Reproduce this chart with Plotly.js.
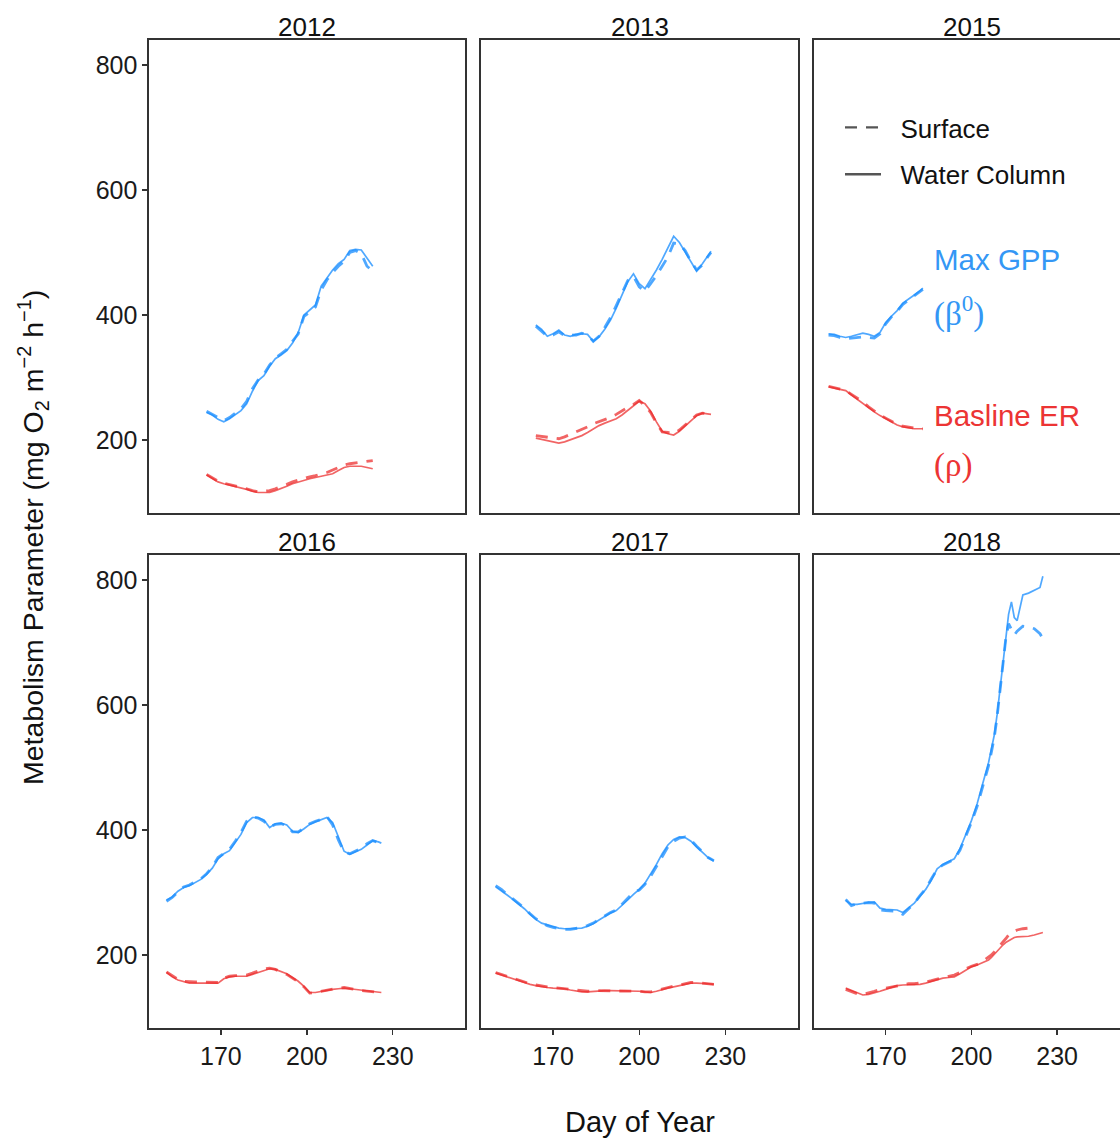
<!DOCTYPE html>
<html>
<head>
<meta charset="utf-8">
<script src="https://cdn.plot.ly/plotly-3.0.1.min.js"></script>
<style>
html,body{margin:0;padding:0;overflow:hidden;background:#fff;}
#chart{width:1120px;height:1141px;}
</style>
</head>
<body>
<div id="chart"></div>
<script>
// ---------------- DATA ----------------
const years = ["2012", "2013", "2015", "2016", "2017", "2018"];
const xTicks = [170, 200, 230];
const yTicks = [200, 400, 600, 800];

const doy2012 = [165,167,169,171,173,175,177,179,181,183,185,187,189,191,193,195,197,199,201,203,205,207,209,211,213,215,217,219,221,223];
const gppSurface2012 = [246,241,236,231,236,243,250,262,282,296,305,320,331,338,345,358,370,398,404,413,440,456,468,478,486,500,503,498,478,470];
const gppWater2012 = [244,240,233,229,234,240,247,258,278,295,303,318,330,336,343,355,372,400,408,416,446,460,472,482,489,503,505,504,490,478];
const erSurface2012 = [145,140,134,131,129,127,125,122,119,117,118,119,122,125,129,133,136,139,141,143,145,148,152,156,160,162,163,165,166,167];
const erWater2012 = [144,139,133,130,128,126,124,121,118,116,116,116,119,122,126,130,133,136,138,140,142,143,146,151,156,158,158,158,156,154];

const doy2013 = [164,166,168,170,172,174,176,178,180,182,184,186,188,190,192,194,196,198,200,202,204,206,208,210,212,214,216,218,220,222,224,225];
const gppSurface2013 = [382,374,366,368,373,367,368,368,371,368,358,366,380,396,415,436,455,462,445,438,450,463,478,493,515,514,503,486,472,480,494,500];
const gppWater2013 = [384,377,366,370,376,368,366,369,370,369,358,365,377,392,411,432,453,466,450,442,456,472,489,508,526,516,500,484,470,482,496,502];
const erSurface2013 = [207,206,205,203,202,205,209,212,216,221,226,229,232,236,241,247,252,257,263,255,244,227,213,212,210,216,224,232,240,243,242,241];
const erWater2013 = [203,201,200,197,195,197,200,203,207,212,218,223,227,230,234,240,247,254,262,258,246,229,214,210,208,214,222,231,239,243,242,241];

const doy2015 = [150,152,154,156,158,160,162,164,166,168,170,172,174,176,178,180,182,183];
const gppSurface2015 = [368,367,364,362,363,364,365,364,363,370,386,397,406,417,424,431,438,441];
const gppWater2015 = [370,369,366,364,366,369,371,369,366,372,388,398,407,419,425,432,439,443];
const erSurface2015 = [286,284,282,279,273,267,261,253,246,240,235,230,225,222,220,219,218,218];
const erWater2015 = [285,283,281,279,272,265,258,252,245,239,234,229,224,221,219,218,218,218];

const doy2016 = [151,153,155,157,159,161,163,165,167,169,171,173,175,177,179,181,183,185,187,189,191,193,195,197,199,201,203,205,207,209,211,213,215,217,219,221,223,225,226];
const gppSurface2016 = [286,292,301,309,312,317,322,330,341,356,363,369,382,396,414,421,419,414,405,409,410,407,397,397,403,410,414,417,422,408,384,365,362,367,371,378,383,380,377];
const gppWater2016 = [288,293,302,308,311,316,321,329,339,354,362,367,380,393,412,420,420,416,404,410,411,408,398,396,402,409,413,416,420,412,388,366,361,365,369,376,383,381,379];
const erSurface2016 = [173,167,161,158,157,157,157,157,156,156,163,166,167,167,168,171,175,178,179,177,173,169,163,157,149,139,140,142,144,145,147,148,147,145,143,142,141,140,140];
const erWater2016 = [172,165,160,157,155,155,155,155,155,155,162,165,166,166,166,169,172,176,178,177,174,170,164,158,150,140,140,142,143,145,146,147,146,145,143,142,141,140,140];

const doy2017 = [150,152,154,156,158,160,162,164,166,168,170,172,174,176,178,180,182,184,186,188,190,192,194,196,198,200,202,204,206,208,210,212,214,216,218,220,222,224,226];
const gppSurface2017 = [311,305,297,290,283,275,266,258,252,247,244,242,241,241,242,244,247,251,257,263,268,272,281,291,300,304,313,326,341,358,373,382,387,389,384,374,365,356,351];
const gppWater2017 = [309,303,296,289,282,274,265,257,251,248,245,243,242,242,242,243,246,250,256,262,267,271,279,288,297,305,315,329,345,362,376,385,389,388,382,373,364,356,350];
const erSurface2017 = [172,169,165,162,159,156,154,152,150,149,148,147,146,144,143,142,142,143,143,143,143,143,143,143,143,142,141,141,143,146,148,150,152,154,156,156,155,154,153];
const erWater2017 = [171,168,164,161,158,155,153,151,149,148,147,147,146,144,142,141,141,142,142,143,143,143,143,143,143,142,141,140,142,145,147,149,151,153,155,155,155,154,153];

const doy2018 = [156,158,160,162,164,166,168,170,172,174,176,178,180,182,184,186,188,190,192,194,196,198,200,202,204,206,207,208,209,210,211,212,213,214,215,216,218,220,222,224,225];
const gppSurface2018 = [289,279,282,283,284,283,272,271,271,270,265,274,283,295,306,322,337,344,348,353,368,390,412,438,470,503,525,548,582,622,668,705,730,722,712,718,726,725,722,714,706];
const gppWater2018 = [287,281,281,283,284,285,275,273,273,272,268,275,283,294,305,320,338,345,349,354,370,393,415,442,475,508,530,552,585,625,672,712,745,765,740,735,776,779,783,788,806];
const erSurface2018 = [145,141,138,137,139,142,145,147,149,151,153,154,154,155,157,159,162,164,166,168,172,178,182,185,190,196,200,205,210,215,220,226,232,236,238,240,242,243,null,null,null];
const erWater2018 = [147,143,139,136,137,139,142,145,148,151,152,152,153,153,155,158,161,163,164,165,170,176,181,184,188,192,196,201,206,212,216,220,223,226,228,229,229,230,232,234,236];

// ---------------- BUILD ----------------
const panels = [
  {year: years[0], doy: doy2012, gs: gppSurface2012, gw: gppWater2012, es: erSurface2012, ew: erWater2012},
  {year: years[1], doy: doy2013, gs: gppSurface2013, gw: gppWater2013, es: erSurface2013, ew: erWater2013},
  {year: years[2], doy: doy2015, gs: gppSurface2015, gw: gppWater2015, es: erSurface2015, ew: erWater2015},
  {year: years[3], doy: doy2016, gs: gppSurface2016, gw: gppWater2016, es: erSurface2016, ew: erWater2016},
  {year: years[4], doy: doy2017, gs: gppSurface2017, gw: gppWater2017, es: erSurface2017, ew: erWater2017},
  {year: years[5], doy: doy2018, gs: gppSurface2018, gw: gppWater2018, es: erSurface2018, ew: erWater2018}
];

const W = 1120, H = 1141;
const BLUE = 'rgba(30,144,255,0.78)';
const RED = 'rgba(235,40,40,0.72)';
const DASH = '12px,9px';
const FONT = 'Liberation Sans, Arial, Helvetica, sans-serif';
const SERIF = 'Liberation Serif, Times New Roman, serif';
const colPx = [[149, 465], [481, 798], [814, 1120]];
const rowPx = [[40, 513], [555, 1028]];
const xRanges = [[144.9, 255.2], [144.9, 255.3], [144.9, 252.0]];
const yRange = [83.2, 840];

const traces = [];
const layout = {
  width: W, height: H,
  margin: {l: 0, r: 0, t: 0, b: 0},
  paper_bgcolor: '#fff', plot_bgcolor: '#fff',
  font: {family: FONT, color: '#1a1a1a', size: 25},
  showlegend: true,
  legend: {
    x: 840 / W, y: 1 - 104 / H, xanchor: 'left', yanchor: 'top',
    bgcolor: 'rgba(0,0,0,0)', borderwidth: 0,
    font: {family: FONT, size: 26, color: '#111'},
    tracegroupgap: 10, itemwidth: 36, traceorder: 'grouped'
  },
  annotations: [],
  shapes: []
};

panels.forEach((p, i) => {
  const r = Math.floor(i / 3), c = i % 3;
  const k = i + 1;
  const xa = 'x' + (k === 1 ? '' : k), ya = 'y' + (k === 1 ? '' : k);
  const xk = 'xaxis' + (k === 1 ? '' : k), yk = 'yaxis' + (k === 1 ? '' : k);
  layout[xk] = {
    domain: [colPx[c][0] / W, colPx[c][1] / W],
    anchor: ya, range: xRanges[c],
    showgrid: false, zeroline: false,
    showline: true, linecolor: '#333', linewidth: 1.6, mirror: true,
    tickvals: xTicks, ticktext: xTicks.map(String),
    ticks: r === 1 ? 'outside' : '', ticklen: 5, tickwidth: 1.4, tickcolor: '#333',
    showticklabels: r === 1,
    tickfont: {family: FONT, size: 25, color: '#1a1a1a'}
  };
  layout[yk] = {
    domain: [1 - rowPx[r][1] / H, 1 - rowPx[r][0] / H],
    anchor: xa, range: yRange,
    showgrid: false, zeroline: false,
    showline: true, linecolor: '#333', linewidth: 1.6, mirror: c !== 2,
    tickvals: yTicks, ticktext: yTicks.map(String),
    ticks: c === 0 ? 'outside' : '', ticklen: 5, tickwidth: 1.4, tickcolor: '#333',
    showticklabels: c === 0,
    tickfont: {family: FONT, size: 25, color: '#1a1a1a'}
  };
  const series = [
    {y: p.gs, color: BLUE, dash: DASH, width: 2.8},
    {y: p.gw, color: BLUE, dash: 'solid', width: 1.7},
    {y: p.es, color: RED, dash: DASH, width: 2.8},
    {y: p.ew, color: RED, dash: 'solid', width: 1.7}
  ];
  series.forEach(s => {
    traces.push({
      type: 'scatter', mode: 'lines', x: p.doy, y: s.y,
      xaxis: xa, yaxis: ya, showlegend: false, hoverinfo: 'skip',
      connectgaps: false,
      line: {color: s.color, dash: s.dash, width: s.width}
    });
  });
  // facet titles
  layout.annotations.push({
    xref: 'paper', yref: 'paper',
    x: (colPx[c][0] + (c === 2 ? 1130 : colPx[c][1])) / 2 / W,
    y: 1 - (rowPx[r][0] - 13) / H,
    text: p.year, showarrow: false, xanchor: 'center', yanchor: 'middle',
    font: {family: FONT, size: 26, color: '#111'}
  });
});

// legend entries (line type keys)
traces.push({type: 'scatter', mode: 'lines', x: [null], y: [null], name: '\u00a0\u00a0Surface',
  legendgroup: 'a', line: {color: '#555', dash: DASH, width: 2.4}, hoverinfo: 'skip'});
traces.push({type: 'scatter', mode: 'lines', x: [null], y: [null], name: '\u00a0\u00a0Water Column',
  legendgroup: 'b', line: {color: '#555', dash: 'solid', width: 2.4}, hoverinfo: 'skip'});

// text labels
const lbl = [
  {t: 'Max GPP', y: 259, col: '#3497f5', f: FONT, s: 29.5},
  {t: '(β<sup>0</sup>)', y: 311, col: '#3497f5', f: SERIF, s: 33},
  {t: 'Basline ER', y: 415, col: '#ec3434', f: FONT, s: 29.5},
  {t: '(ρ)', y: 465, col: '#ec3434', f: SERIF, s: 33}
];
lbl.forEach(a => layout.annotations.push({
  xref: 'paper', yref: 'paper', x: 932 / W, y: 1 - a.y / H,
  xanchor: 'left', yanchor: 'middle', showarrow: false, text: a.t,
  font: {family: a.f, size: a.s, color: a.col}
}));

// axis titles
layout.annotations.push({
  xref: 'paper', yref: 'paper', x: 640 / W, y: 1 - 1122 / H,
  xanchor: 'center', yanchor: 'middle', showarrow: false, text: 'Day of Year',
  font: {family: FONT, size: 29, color: '#111'}
});
layout.annotations.push({
  xref: 'paper', yref: 'paper', x: 33 / W, y: 1 - 538 / H,
  xanchor: 'center', yanchor: 'middle', showarrow: false, textangle: -90,
  text: 'Metabolism Parameter (mg O<sub>2</sub> m<sup>−2</sup> h<sup>−1</sup>)',
  font: {family: FONT, size: 28.5, color: '#111'}
});

Plotly.newPlot('chart', traces, layout, {displayModeBar: false, staticPlot: true});
</script>
</body>
</html>
